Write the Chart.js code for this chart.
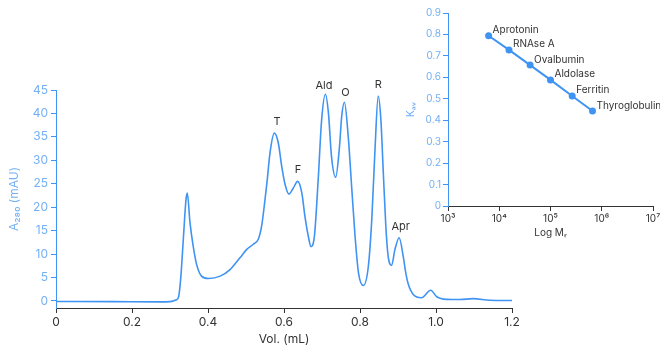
<!DOCTYPE html>
<html><head><meta charset="utf-8">
<script src="https://cdn.jsdelivr.net/npm/chart.js@4.4.1/dist/chart.umd.min.js"></script>
<style>
html,body{margin:0;padding:0;width:660px;height:350px;overflow:hidden;background:#fff;}
#main{position:absolute;left:0;top:0;}
#inset{position:absolute;left:400px;top:0;}
</style></head><body>
<canvas id="main" width="660" height="350"></canvas>
<canvas id="inset" width="290" height="245"></canvas>
<script>
// ---- main chromatogram data ----
const vol = [0, 0.15, 0.274, 0.3, 0.315, 0.322, 0.328, 0.335, 0.342, 0.3455, 0.3526, 0.361, 0.370, 0.383, 0.401, 0.432, 0.458, 0.484, 0.502, 0.519, 0.532, 0.541, 0.55, 0.556, 0.563, 0.5745, 0.585, 0.594, 0.603, 0.613, 0.6245, 0.636, 0.647, 0.655, 0.664, 0.671, 0.680, 0.690, 0.699, 0.709, 0.717, 0.725, 0.736, 0.746, 0.752, 0.759, 0.769, 0.778, 0.787, 0.796, 0.809, 0.822, 0.831, 0.839, 0.848, 0.855, 0.861, 0.868, 0.874, 0.883, 0.892, 0.903, 0.914, 0.92, 0.927, 0.94, 0.962, 0.986, 1.002, 1.028, 1.063, 1.098, 1.142, 1.2];
const a280 = [-0.1, -0.15, -0.2, -0.15, 0.2, 0.7, 4.6, 13.1, 21.5, 23.0, 16.7, 11.7, 7.8, 5.3, 4.8, 5.3, 6.7, 9.2, 11.0, 12.1, 13.1, 15.9, 21.6, 25.9, 31.5, 35.8, 33.7, 28.7, 24.8, 22.8, 24.1, 25.5, 23.0, 18.1, 13.8, 11.6, 13.8, 25.9, 38.6, 44.1, 40.0, 30.8, 26.4, 32.9, 39.5, 42.4, 35.1, 24.4, 13.8, 6.0, 3.3, 7.4, 17.4, 31.5, 43.7, 38.6, 28.0, 15.9, 9.6, 7.6, 11.0, 13.5, 9.4, 6.2, 3.6, 1.4, 0.7, 2.3, 0.9, 0.35, 0.3, 0.5, 0.15, 0.1];
const peakNames = ['T', 'F', 'Ald', 'O', 'R', 'Apr'];
const peakLabelVol = [0.582, 0.637, 0.705, 0.762, 0.848, 0.907];
const peakLabelA = [38.3, 27.9, 45.9, 44.4, 46.1, 15.9];
const xTicksMain = [0, 0.2, 0.4, 0.6, 0.8, 1.0, 1.2];
const yTicksMain = [0, 5, 10, 15, 20, 25, 30, 35, 40, 45];

// ---- inset calibration data ----
const proteins = ['Aprotonin', 'RNAse A', 'Ovalbumin', 'Aldolase', 'Ferritin', 'Thyroglobulin'];
const mr = [6200, 15500, 40000, 100000, 265000, 660000];
const kav = [0.794, 0.728, 0.657, 0.588, 0.513, 0.443];
const insetXTicks = [1e3, 1e4, 1e5, 1e6, 1e7];
const insetXTickLabels = ['10³', '10⁴', '10⁵', '10⁶', '10⁷'];
const insetYTicks = [0, 0.1, 0.2, 0.3, 0.4, 0.5, 0.6, 0.7, 0.8, 0.9];

const BLUE = '#3f93f3';
const LBLUE = '#74b0f6';
const DARK = '#333333';
const FONT = 'Inter, "Noto Sans", sans-serif';

const peakLabelPlugin = {
  id: 'peakLabels',
  afterDatasetsDraw(chart) {
    const ctx = chart.ctx, xs = chart.scales.x, ys = chart.scales.y;
    ctx.save();
    ctx.fillStyle = DARK;
    ctx.font = '11px ' + FONT;
    ctx.textAlign = 'center';
    ctx.textBaseline = 'middle';
    peakNames.forEach((n, i) => {
      ctx.fillText(n, xs.getPixelForValue(peakLabelVol[i]), ys.getPixelForValue(peakLabelA[i]));
    });
    ctx.restore();
  }
};

new Chart(document.getElementById('main'), {
  type: 'line',
  data: { datasets: [{
    data: vol.map((v, i) => ({ x: v, y: a280[i] })),
    borderColor: BLUE, borderWidth: 1.6, pointRadius: 0,
    cubicInterpolationMode: 'monotone', fill: false
  }]},
  options: {
    responsive: false, animation: false, devicePixelRatio: 1,
    layout: { padding: { left: 0, top: 90, right: 148, bottom: 0 } },
    plugins: { legend: { display: false }, tooltip: { enabled: false } },
    scales: {
      x: {
        type: 'linear', min: 0, max: 1.2,
        afterBuildTicks: s => { s.ticks = xTicksMain.map(v => ({ value: v })); },
        afterFit: s => { s.height = 42; },
        ticks: { color: DARK, font: { family: FONT, size: 12 }, padding: 2, maxRotation: 0,
          callback: v => v === 0 ? '0' : v.toFixed(1) },
        grid: { display: true, drawOnChartArea: false, drawTicks: true, tickLength: 5, color: DARK },
        border: { display: true, color: DARK, width: 1 },
        title: { display: true, text: 'Vol. (mL)', color: DARK, font: { family: FONT, size: 12 }, padding: { top: 0, bottom: 3 } }
      },
      y: {
        min: -1.5, max: 45,
        afterBuildTicks: s => { s.ticks = yTicksMain.map(v => ({ value: v })); },
        afterFit: s => { s.width = 56; },
        ticks: { color: LBLUE, font: { family: FONT, size: 12 }, padding: 3 },
        grid: { display: true, drawOnChartArea: false, drawTicks: true, tickLength: 5, color: BLUE },
        border: { display: true, color: BLUE, width: 1 },
        title: { display: true, text: 'A₂₈₀ (mAU)', color: LBLUE, font: { family: FONT, size: 12 }, padding: { top: 7, bottom: 0 } }
      }
    }
  },
  plugins: [peakLabelPlugin]
});

const insetLabelPlugin = {
  id: 'insetLabels',
  afterDatasetsDraw(chart) {
    const ctx = chart.ctx, xs = chart.scales.x, ys = chart.scales.y;
    ctx.save();
    ctx.fillStyle = DARK;
    ctx.font = '10px ' + FONT;
    ctx.textAlign = 'left';
    ctx.textBaseline = 'middle';
    proteins.forEach((n, i) => {
      ctx.fillText(n, xs.getPixelForValue(mr[i]) + 4, ys.getPixelForValue(kav[i]) - 5.5);
    });
    ctx.restore();
  }
};

new Chart(document.getElementById('inset'), {
  type: 'line',
  data: { datasets: [{
    data: mr.map((m, i) => ({ x: m, y: kav[i] })),
    borderColor: BLUE, borderWidth: 2, pointRadius: 3.5, pointBackgroundColor: BLUE,
    pointBorderWidth: 0, tension: 0, fill: false, clip: false
  }]},
  options: {
    responsive: false, animation: false, devicePixelRatio: 1,
    layout: { padding: { left: 0, top: 13, right: 37, bottom: 0 } },
    plugins: { legend: { display: false }, tooltip: { enabled: false } },
    scales: {
      x: {
        type: 'logarithmic', min: 1e3, max: 1e7,
        afterBuildTicks: s => { s.ticks = insetXTicks.map(v => ({ value: v })); },
        afterFit: s => { s.height = 39; },
        ticks: { color: DARK, font: { family: FONT, size: 10 }, padding: 2, maxRotation: 0, autoSkip: false,
          callback: (v, i) => insetXTickLabels[insetXTicks.indexOf(v)] },
        grid: { display: true, drawOnChartArea: false, drawTicks: true, tickLength: 5, color: DARK },
        border: { display: true, color: DARK, width: 1 },
        title: { display: true, text: 'Log Mᵣ', color: DARK, font: { family: FONT, size: 10 }, padding: { top: 0, bottom: 6 } }
      },
      y: {
        min: 0, max: 0.9,
        afterBuildTicks: s => { s.ticks = insetYTicks.map(v => ({ value: v })); },
        afterFit: s => { s.width = 48; },
        ticks: { color: LBLUE, font: { family: FONT, size: 10 }, padding: 2,
          callback: v => v === 0 ? '0' : v.toFixed(1) },
        grid: { display: true, drawOnChartArea: false, drawTicks: true, tickLength: 5, color: BLUE },
        border: { display: true, color: BLUE, width: 1 },
        title: { display: true, text: 'Kₐᵥ', color: LBLUE, font: { family: FONT, size: 10 }, padding: { top: 5, bottom: 0 } }
      }
    }
  },
  plugins: [insetLabelPlugin]
});
</script>
</body></html>
